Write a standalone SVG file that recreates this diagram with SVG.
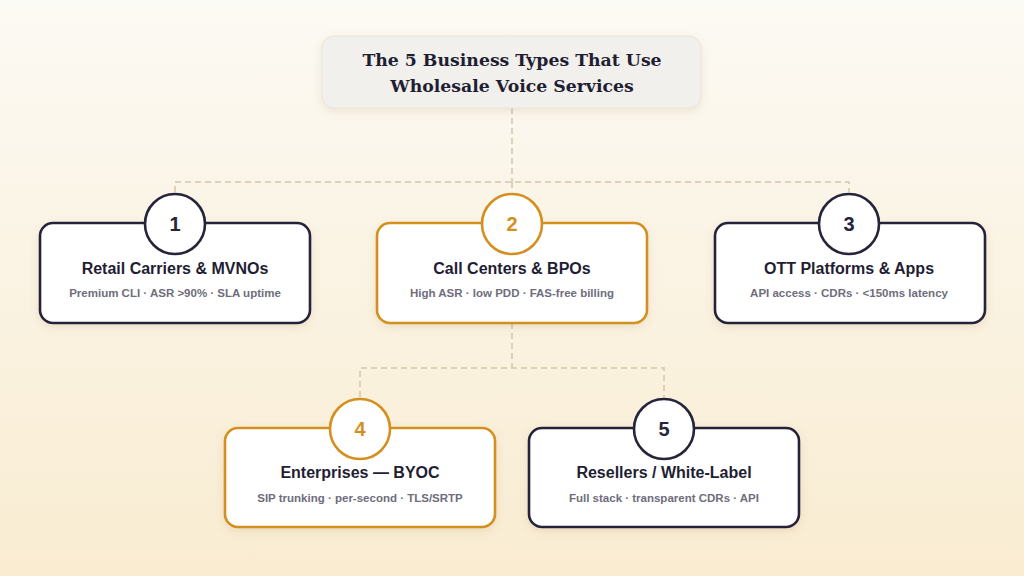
<svg xmlns="http://www.w3.org/2000/svg" width="1024" height="576" viewBox="0 0 1024 576">
<defs>
<linearGradient id="bg" x1="0" y1="0" x2="0" y2="1">
<stop offset="0" stop-color="#fcfaf4"/>
<stop offset="1" stop-color="#f9ecd1"/>
</linearGradient>
<filter id="sh" x="-10%" y="-10%" width="120%" height="130%">
<feDropShadow dx="0" dy="3" stdDeviation="4" flood-color="#8a7040" flood-opacity="0.15"/>
</filter>
</defs>
<style>
.card{fill:#ffffff;stroke-width:2.6}
.dark{stroke:#25243a}
.gold{stroke:#d4901f}
.circ{fill:#ffffff;stroke-width:2.6}
.num{font-family:"Liberation Sans",Arial,sans-serif;font-weight:bold;font-size:20px;text-anchor:middle}
.nd{fill:#25243a}
.ng{fill:#d4901f}
.ttl{font-family:"Liberation Sans",Arial,sans-serif;font-weight:bold;font-size:16px;fill:#1f1e33;text-anchor:middle}
.sub{font-family:"Liberation Sans",Arial,sans-serif;font-weight:bold;font-size:11.5px;fill:#6e6d7c;text-anchor:middle}
.con{fill:none;stroke:#d8c8aa;stroke-width:1.6;stroke-dasharray:6 4}
</style>
<rect width="1024" height="576" fill="url(#bg)"/>
<g id="connectors">
<path class="con" d="M512 108 V182 M175 192 V182 H849 V192 M512 182 V192"/>
<path class="con" d="M512 323 V368 M360 397 V368 H664 V397"/>
</g>
<g id="title">
<rect x="322" y="36" width="379" height="72" rx="12" fill="#f1f0ec" stroke="#ebe4d2" stroke-width="1" filter="url(#sh)"/>
<text x="512" y="66" font-family="'DejaVu Serif','Liberation Serif',Georgia,serif" font-weight="bold" font-size="17.3" fill="#1f1e33" text-anchor="middle">The 5 Business Types That Use</text>
<text x="512" y="92" font-family="'DejaVu Serif','Liberation Serif',Georgia,serif" font-weight="bold" font-size="17.3" fill="#1f1e33" text-anchor="middle">Wholesale Voice Services</text>
</g>
<g id="node1">
<rect class="card dark" x="40" y="223" width="270" height="100" rx="13" filter="url(#sh)"/>
<circle class="circ dark" cx="175" cy="224" r="30"/>
<text class="num nd" x="175" y="231">1</text>
<text class="ttl" x="175" y="274">Retail Carriers &amp; MVNOs</text>
<text class="sub" x="175" y="297">Premium CLI · ASR &gt;90% · SLA uptime</text>
</g>
<g id="node2">
<rect class="card gold" x="377" y="223" width="270" height="100" rx="13" filter="url(#sh)"/>
<circle class="circ gold" cx="512" cy="224" r="30"/>
<text class="num ng" x="512" y="231">2</text>
<text class="ttl" x="512" y="274">Call Centers &amp; BPOs</text>
<text class="sub" x="512" y="297">High ASR · low PDD · FAS-free billing</text>
</g>
<g id="node3">
<rect class="card dark" x="715" y="223" width="270" height="100" rx="13" filter="url(#sh)"/>
<circle class="circ dark" cx="849" cy="224" r="30"/>
<text class="num nd" x="849" y="231">3</text>
<text class="ttl" x="849" y="274">OTT Platforms &amp; Apps</text>
<text class="sub" x="849" y="297">API access · CDRs · &lt;150ms latency</text>
</g>
<g id="node4">
<rect class="card gold" x="225" y="428" width="270" height="99" rx="13" filter="url(#sh)"/>
<circle class="circ gold" cx="360" cy="429" r="30"/>
<text class="num ng" x="360" y="436">4</text>
<text class="ttl" x="360" y="478">Enterprises — BYOC</text>
<text class="sub" x="360" y="502">SIP trunking · per-second · TLS/SRTP</text>
</g>
<g id="node5">
<rect class="card dark" x="529" y="428" width="270" height="99" rx="13" filter="url(#sh)"/>
<circle class="circ dark" cx="664" cy="429" r="30"/>
<text class="num nd" x="664" y="436">5</text>
<text class="ttl" x="664" y="478">Resellers / White-Label</text>
<text class="sub" x="664" y="502">Full stack · transparent CDRs · API</text>
</g>
</svg>
